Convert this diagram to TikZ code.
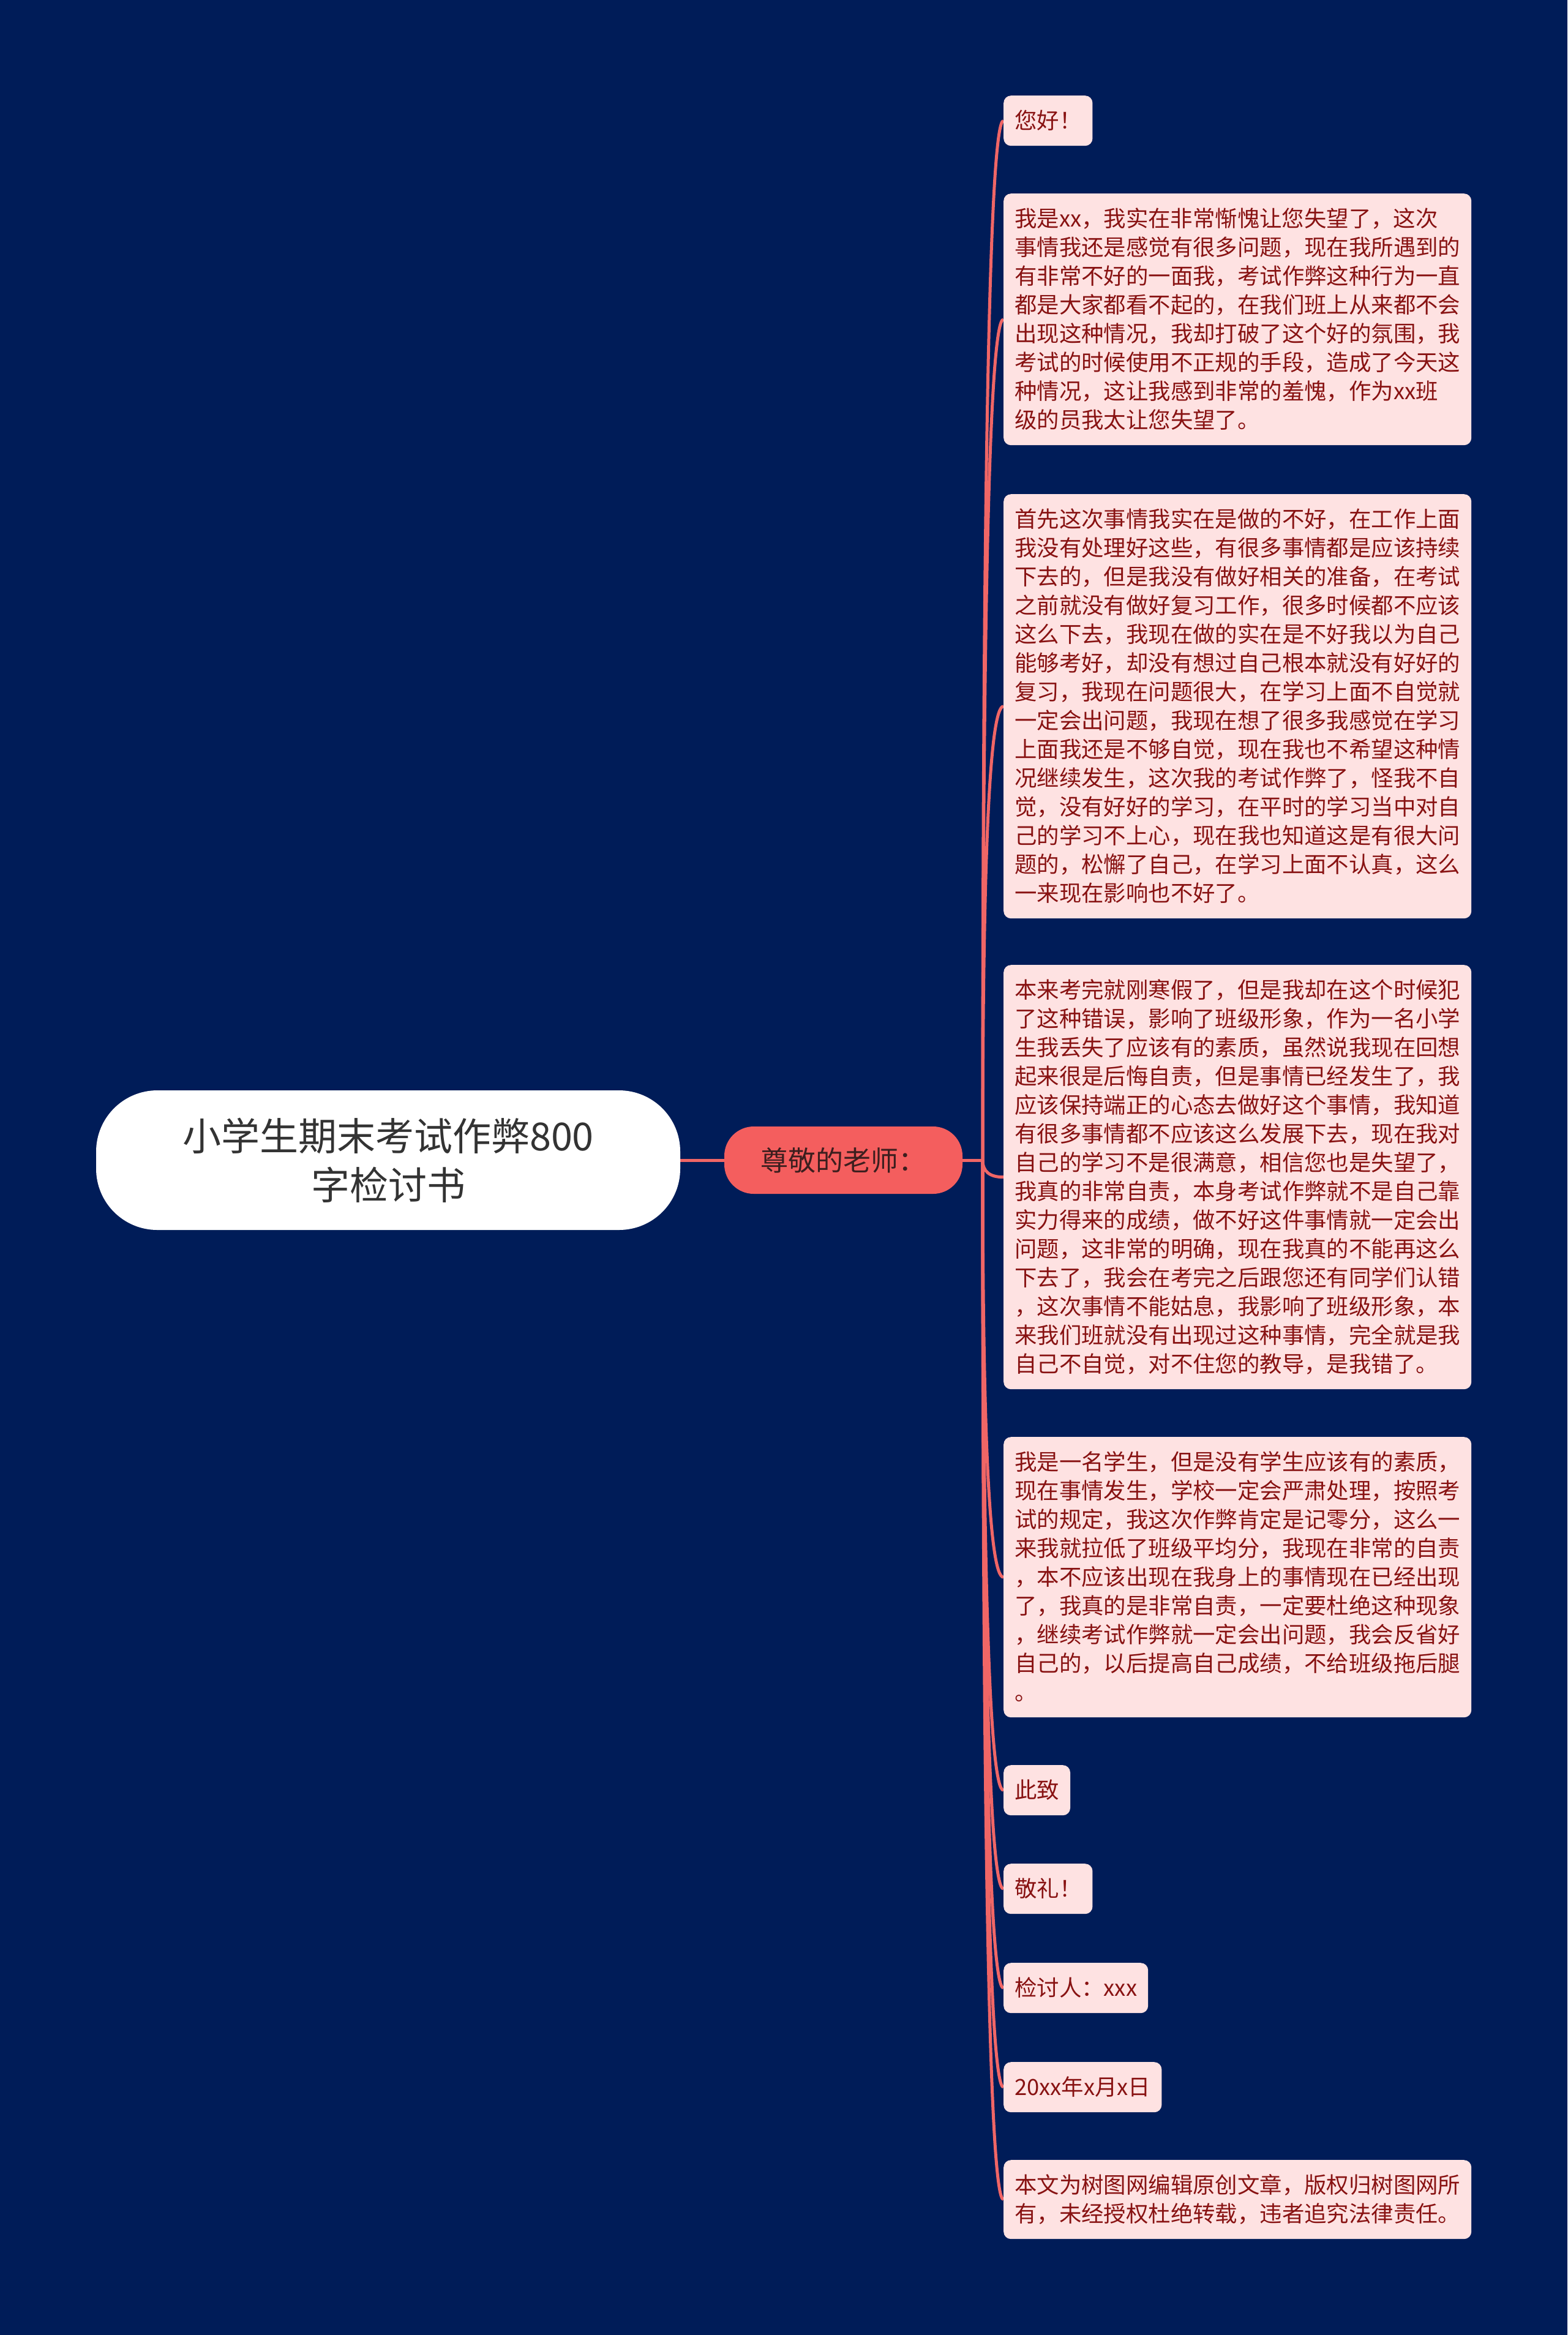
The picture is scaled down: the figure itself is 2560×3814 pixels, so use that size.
\documentclass[tikz,border=0pt]{standalone}
\usepackage{fontspec}
\newfontfamily\cjk{Noto Sans CJK SC}
\usetikzlibrary{calc}
\pgfdeclarelayer{bg}
\pgfsetlayers{bg,main}
\definecolor{bgc}{RGB}{0,28,88}
\definecolor{linec}{RGB}{240,102,102}
\definecolor{mainfill}{RGB}{244,94,94}
\definecolor{maintext}{RGB}{60,30,30}
\definecolor{leaffill}{RGB}{254,226,226}
\definecolor{leaftext}{RGB}{136,18,18}
\definecolor{roottext}{RGB}{51,51,51}
\newcommand\ls{\rule[-9.8pt]{0pt}{47pt}}
\newcommand\leaffont{\cjk\fontsize{36.4pt}{47pt}\selectfont}
\begin{document}
\begin{tikzpicture}[x=1pt,y=-1pt,
  leaf/.style={fill=leaffill, text=leaftext, rounded corners=12pt, inner xsep=18pt, inner ysep=17.5pt, anchor=north west, font=\leaffont, align=left},
  wide/.style={text width=728pt},
  conn/.style={draw=linec, line width=5pt},
  rootbox/.style={fill=white, text=roottext, rounded corners=100pt, minimum width=954pt, minimum height=228pt, align=center, font=\cjk\fontsize{63pt}{80pt}\selectfont, inner sep=0pt},
  mainbox/.style={fill=mainfill, text=maintext, rounded corners=48pt, minimum width=389pt, minimum height=110pt, font=\cjk\fontsize{45pt}{52pt}\selectfont, inner sep=0pt}
]
\begin{pgfonlayer}{bg}
\fill[bgc] (0,0) rectangle (2560,3814);
\end{pgfonlayer}
\useasboundingbox (0,0) rectangle (2560,3814);

\node[rootbox] (root) at (634,1895) {小学生期末考试作弊800\\字检讨书};
\node[mainbox] (main) at (1377.5,1895) {尊敬的老师：};
\coordinate (J) at (1605,1895);

\node[leaf] (l1) at (1639,156) {\ls 您好！};
\node[leaf,wide] (l2) at (1639,316) {\ls 我是xx，我实在非常惭愧让您失望了，这次\\
事情我还是感觉有很多问题，现在我所遇到的\\
有非常不好的一面我，考试作弊这种行为一直\\
都是大家都看不起的，在我们班上从来都不会\\
出现这种情况，我却打破了这个好的氛围，我\\
考试的时候使用不正规的手段，造成了今天这\\
种情况，这让我感到非常的羞愧，作为xx班\\
级的员我太让您失望了。\ls};
\node[leaf,wide] (l3) at (1639,807) {\ls 首先这次事情我实在是做的不好，在工作上面\\
我没有处理好这些，有很多事情都是应该持续\\
下去的，但是我没有做好相关的准备，在考试\\
之前就没有做好复习工作，很多时候都不应该\\
这么下去，我现在做的实在是不好我以为自己\\
能够考好，却没有想过自己根本就没有好好的\\
复习，我现在问题很大，在学习上面不自觉就\\
一定会出问题，我现在想了很多我感觉在学习\\
上面我还是不够自觉，现在我也不希望这种情\\
况继续发生，这次我的考试作弊了，怪我不自\\
觉，没有好好的学习，在平时的学习当中对自\\
己的学习不上心，现在我也知道这是有很大问\\
题的，松懈了自己，在学习上面不认真，这么\\
一来现在影响也不好了。\ls};
\node[leaf,wide] (l4) at (1639,1576) {\ls 本来考完就刚寒假了，但是我却在这个时候犯\\
了这种错误，影响了班级形象，作为一名小学\\
生我丢失了应该有的素质，虽然说我现在回想\\
起来很是后悔自责，但是事情已经发生了，我\\
应该保持端正的心态去做好这个事情，我知道\\
有很多事情都不应该这么发展下去，现在我对\\
自己的学习不是很满意，相信您也是失望了，\\
我真的非常自责，本身考试作弊就不是自己靠\\
实力得来的成绩，做不好这件事情就一定会出\\
问题，这非常的明确，现在我真的不能再这么\\
下去了，我会在考完之后跟您还有同学们认错\\
，这次事情不能姑息，我影响了班级形象，本\\
来我们班就没有出现过这种事情，完全就是我\\
自己不自觉，对不住您的教导，是我错了。\ls};
\node[leaf,wide] (l5) at (1639,2347) {\ls 我是一名学生，但是没有学生应该有的素质，\\
现在事情发生，学校一定会严肃处理，按照考\\
试的规定，我这次作弊肯定是记零分，这么一\\
来我就拉低了班级平均分，我现在非常的自责\\
，本不应该出现在我身上的事情现在已经出现\\
了，我真的是非常自责，一定要杜绝这种现象\\
，继续考试作弊就一定会出问题，我会反省好\\
自己的，以后提高自己成绩，不给班级拖后腿\\
。\ls};
\node[leaf] (l6) at (1639,2883) {\ls 此致};
\node[leaf] (l7) at (1639,3044) {\ls 敬礼！};
\node[leaf] (l8) at (1639,3206) {\ls 检讨人：xxx};
\node[leaf] (l9) at (1639,3368) {\ls 20xx年x月x日};
\node[leaf,wide] (l10) at (1639,3528) {\ls 本文为树图网编辑原创文章，版权归树图网所\\
有，未经授权杜绝转载，违者追究法律责任。\ls};

\begin{pgfonlayer}{bg}
\draw[conn] (root.east) -- (main.west);
\draw[conn] (main.east) -- (J);
\foreach \n in {l1,l2,l3,l4,l5,l6,l7,l8,l9,l10}{
  \coordinate (k) at (J|-\n.west);
  \draw[conn] (J) .. controls ($(J)!0.667!(k)$) and ($(\n.west)!0.667!(k)$) .. (\n.west);
}
\end{pgfonlayer}
\end{tikzpicture}
\end{document}
